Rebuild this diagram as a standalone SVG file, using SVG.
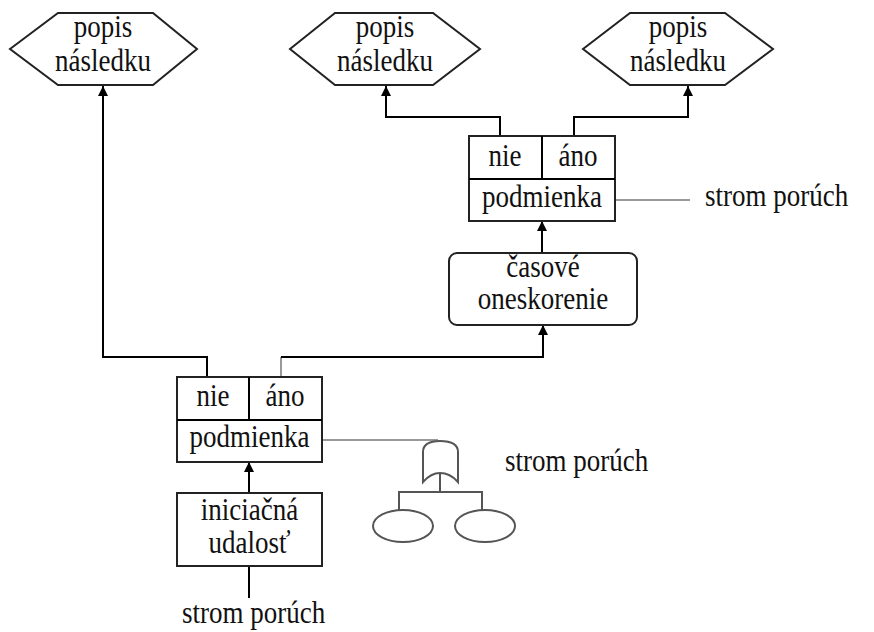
<svg xmlns="http://www.w3.org/2000/svg" width="874" height="632" viewBox="0 0 874 632">
<defs>
<marker id="arr" viewBox="0 0 10 10" refX="10" refY="5" markerWidth="10" markerHeight="10" markerUnits="userSpaceOnUse" orient="auto">
<path d="M0,0 L10,5 L0,10 z" fill="#000"/>
</marker>
<style>
text{font-family:"Liberation Serif","Times New Roman",serif;font-size:27px;fill:#111;text-anchor:middle}
.s{fill:#fff;stroke:#222;stroke-width:2}
.g{fill:none;stroke:#555;stroke-width:2}
.c{fill:none;stroke:#000;stroke-width:2}
.cg{fill:none;stroke:#999;stroke-width:2}
.st{text-anchor:start}
</style>
</defs>
<rect width="874" height="632" fill="#fff"/>
<g id="connectors">
<path class="c" d="M207,377 V357 H103 V86" marker-end="url(#arr)"/>
<path class="cg" d="M281,377 V357"/>
<path class="c" d="M281,357 H543 V325" marker-end="url(#arr)"/>
<path class="c" d="M249,493 V462" marker-end="url(#arr)"/>
<path class="c" d="M249,566 V598"/>
<path class="c" d="M542,253 V221" marker-end="url(#arr)"/>
<path class="c" d="M500,136 V117 H386 V86" marker-end="url(#arr)"/>
<path class="c" d="M574,136 V117 H688 V86" marker-end="url(#arr)"/>
<path class="cg" d="M615,200 H690"/>
<path class="cg" d="M322,440 H438"/>
<path class="g" d="M440,473 V492 M399,510 V492 H482 V510"/>
</g>
<g id="hex1">
<polygon class="s" points="10,49 58,13 153,13 197,49 153,85 58,85"/>
<text transform="translate(103,37) scale(1,1.18)">popis</text>
<text transform="translate(103,71) scale(1,1.18)">následku</text>
</g>
<g id="hex2">
<polygon class="s" points="290,49 335,13 433,13 480,49 433,85 335,85"/>
<text transform="translate(385,37) scale(1,1.18)">popis</text>
<text transform="translate(385,71) scale(1,1.18)">následku</text>
</g>
<g id="hex3">
<polygon class="s" points="583,49 630,13 725,13 773,49 725,85 630,85"/>
<text transform="translate(678,37) scale(1,1.18)">popis</text>
<text transform="translate(678,71) scale(1,1.18)">následku</text>
</g>
<g id="cond-upper">
<rect class="s" x="469" y="136" width="146" height="85"/>
<path class="c" d="M469,179 H615 M542,136 V179"/>
<text transform="translate(505,166) scale(1,1.18)">nie</text>
<text transform="translate(578,166) scale(1,1.18)">áno</text>
<text transform="translate(542,207) scale(1,1.18)">podmienka</text>
</g>
<g id="label-upper">
<text class="st" transform="translate(705,206) scale(1,1.18)">strom porúch</text>
</g>
<g id="delay">
<rect class="s" x="449" y="253" width="188" height="72" rx="8"/>
<text transform="translate(543,277) scale(1,1.18)">časové</text>
<text transform="translate(543,309) scale(1,1.18)">oneskorenie</text>
</g>
<g id="cond-lower">
<rect class="s" x="177" y="377" width="145" height="85"/>
<path class="c" d="M177,420 H322 M249,377 V420"/>
<text transform="translate(213,406) scale(1,1.18)">nie</text>
<text transform="translate(285,406) scale(1,1.18)">áno</text>
<text transform="translate(249.5,447) scale(1,1.18)">podmienka</text>
</g>
<g id="init">
<rect class="s" x="177" y="493" width="145" height="73"/>
<text transform="translate(249.5,520) scale(1,1.18)">iniciačná</text>
<text transform="translate(249.5,553) scale(1,1.18)">udalosť</text>
</g>
<g id="label-bottom">
<text class="st" transform="translate(182,623) scale(1,1.18)">strom porúch</text>
</g>
<g id="or-gate">
<path class="g" d="M423,482 V452 Q423,441 440,441 Q458,441 458,452 V482 Q450,473 440,473 Q431,473 423,482 Z" fill="#fff"/>
</g>
<g id="event1"><ellipse class="g" cx="403" cy="526" rx="30" ry="16"/></g>
<g id="event2"><ellipse class="g" cx="485" cy="526" rx="30" ry="16"/></g>
<g id="label-gate">
<text class="st" transform="translate(505,471) scale(1,1.18)">strom porúch</text>
</g>
</svg>
